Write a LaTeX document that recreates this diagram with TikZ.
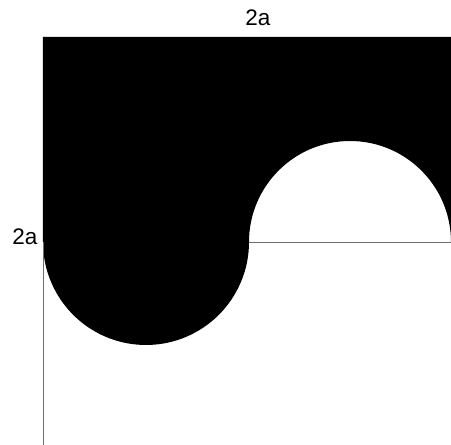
\documentclass[tikz,border=0pt]{standalone}
\usepackage{fontspec}
\setmainfont{Liberation Sans}
\usepackage{xcolor}
\definecolor{edgegray}{RGB}{110,110,110}

\begin{document}
\begin{tikzpicture}[
    dimlabel/.style={font=\fontsize{16}{19}\selectfont, inner sep=1pt},
    guide/.style={draw=edgegray, line width=0.6pt}
]
    \useasboundingbox (-1.075,0) rectangle (10.2,11.125);
    % corners and the mid line of the square
    \coordinate (bl) at (0,0);
    \coordinate (ml) at (0,5.075);
    \coordinate (mc) at (5.15,5.075);
    \coordinate (mr) at (10.2,5.075);

    \fill[black] (0,10.2) -- (10.2,10.2) -- (mr) arc (0:180:2.525)
        arc (0:-180:2.575) -- cycle;

    \draw[guide] (ml) -- (bl);
    \draw[guide] (mc) -- (mr);

    \node[dimlabel] (top) at (5.375,10.675) {2a};
    \node[dimlabel] (side) at (-0.45,5.2) {2a};
\end{tikzpicture}
\end{document}
